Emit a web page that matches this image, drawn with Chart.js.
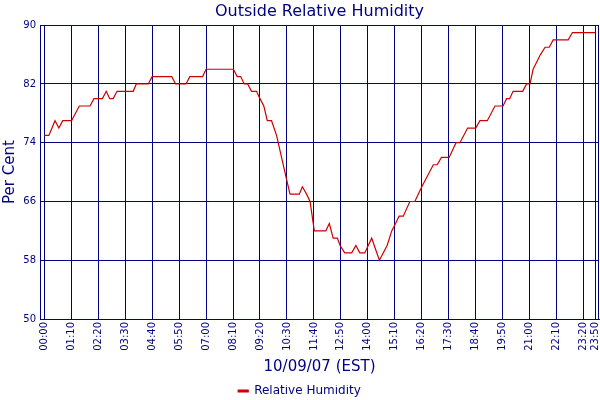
<!DOCTYPE html>
<html>
<head>
<meta charset="utf-8">
<script src="https://cdn.jsdelivr.net/npm/chart.js@4.4.0/dist/chart.umd.min.js"></script>
<style>
  body { margin: 0; background: #ffffff; }
  #wrap { width: 600px; height: 400px; }
</style>
</head>
<body>
<div id="wrap"><canvas id="chart" width="600" height="400"></canvas></div>
<script>
// minutes after midnight where the trace changes direction, and the reading there
const readingMinutes = [
    0, 12, 28, 38, 48, 71, 91, 119, 129, 151, 161, 170, 179, 189, 231, 239, 270, 280,
    331, 341, 368, 378, 411, 420, 491, 501, 510, 519, 528, 538, 551, 560, 570, 579,
    590, 603, 616, 629, 638, 662, 670, 681, 690, 701, 731, 740, 750, 761, 768, 780,
    798, 809, 819, 832, 850, 870, 890, 902, 912, 921, 932, 949, 962, 980, 1010, 1020,
    1031, 1051, 1069, 1079, 1099, 1120, 1131, 1150, 1170, 1191, 1200, 1208, 1217, 1242,
    1252, 1261, 1269, 1288, 1300, 1311, 1321, 1360, 1371, 1430
];
const humidity = [
    75, 75, 77, 76, 77, 77, 79, 79, 80, 80, 81, 80, 80, 81, 81, 82, 82, 83,
    83, 82, 82, 83, 83, 84, 84, 83, 83, 82, 82, 81, 81, 80, 79, 77,
    77, 75, 72, 69, 67, 67, 68, 67, 66, 62, 62, 63, 61, 61, 60, 59,
    59, 60, 59, 59, 61, 58, 60, 62, 63, 64, 64, 66, 66, 68, 71, 71,
    72, 72, 74, 74, 76, 76, 77, 77, 79, 79, 80, 80, 81, 81,
    82, 82, 84, 86, 87, 87, 88, 88, 89, 89
];

// x axis ticks (minutes) and their labels
const tickMinutes = [0, 70, 140, 210, 280, 350, 420, 490, 560, 630, 700, 770, 840, 910,
    980, 1050, 1120, 1190, 1260, 1330, 1400, 1430];
const tickLabels = ["00:00", "01:10", "02:20", "03:30", "04:40", "05:50", "07:00", "08:10",
    "09:20", "10:30", "11:40", "12:50", "14:00", "15:10", "16:20", "17:30", "18:40",
    "19:50", "21:00", "22:10", "23:20", "23:50"];

const navy = "#000080";
const font = "'DejaVu Sans', Verdana, sans-serif";
const bottomPad = -7;

// closes the plot frame on the right side
const framePlugin = {
    id: "frame",
    beforeDatasetsDraw(chart) {
        const { ctx, chartArea: a } = chart;
        ctx.save();
        ctx.strokeStyle = navy;
        ctx.lineWidth = 1;
        ctx.beginPath();
        ctx.moveTo(a.right - 0.5, a.top);
        ctx.lineTo(a.right - 0.5, a.bottom);
        ctx.stroke();
        ctx.restore();
    }
};

new Chart(document.getElementById("chart"), {
    type: "line",
    data: {
        datasets: [{
            label: "Relative Humidity",
            data: readingMinutes.map((m, i) => ({ x: m, y: humidity[i] })),
            borderColor: "#cc0000",
            backgroundColor: "#cc0000",
            borderWidth: 1.2,
            pointRadius: 0,
            tension: 0,
            fill: false
        }]
    },
    options: {
        responsive: false,
        animation: false,
        devicePixelRatio: 1,
        layout: { padding: { top: 0, right: 1, bottom: bottomPad, left: 0 } },
        plugins: {
            title: {
                display: true,
                text: "Outside Relative Humidity",
                color: navy,
                fullSize: false,
                font: { family: font, size: 16, weight: "normal" },
                padding: { top: 2, bottom: 4 }
            },
            legend: {
                position: "bottom",
                labels: {
                    color: navy,
                    font: { family: font, size: 12 },
                    boxWidth: 10,
                    boxHeight: 2,
                    padding: 0
                }
            },
            tooltip: { enabled: false }
        },
        scales: {
            x: {
                type: "linear",
                min: -11,
                max: 1440,
                afterBuildTicks(scale) {
                    scale.ticks = tickMinutes.map(v => ({ value: v }));
                },
                afterFit(scale) {
                    scale.height = 400 - bottomPad - 319 - scale.chart.legend.height;
                    scale.paddingLeft = 0;
                    scale.paddingRight = 0;
                },
                ticks: {
                    autoSkip: false,
                    minRotation: 90,
                    maxRotation: 90,
                    padding: 3,
                    color: navy,
                    font: { family: font, size: 10 },
                    callback: v => tickLabels[tickMinutes.indexOf(v)]
                },
                grid: { color: navy, lineWidth: 1, drawTicks: false },
                border: { color: navy, width: 1 },
                title: {
                    display: true,
                    text: "10/09/07 (EST)",
                    color: navy,
                    font: { family: font, size: 15 },
                    padding: { top: 0, bottom: 9 }
                }
            },
            y: {
                min: 50,
                max: 90,
                afterFit(scale) {
                    scale.width = 40;
                },
                ticks: {
                    stepSize: 8,
                    padding: 4,
                    color: navy,
                    font: { family: font, size: 10 }
                },
                grid: { color: navy, lineWidth: 1, drawTicks: false },
                border: { color: navy, width: 1 },
                title: {
                    display: true,
                    text: "Per Cent",
                    color: navy,
                    font: { family: font, size: 15 },
                    padding: { top: 1, bottom: 0 }
                }
            }
        }
    },
    plugins: [framePlugin]
});
</script>
</body>
</html>
